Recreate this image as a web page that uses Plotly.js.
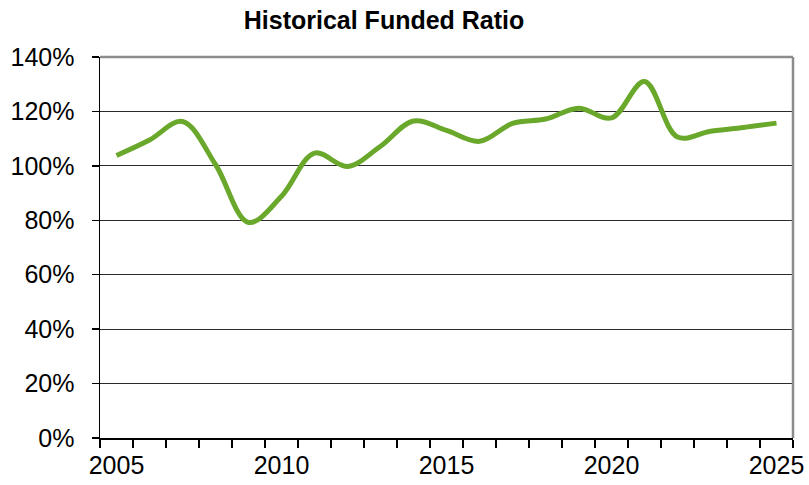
<!DOCTYPE html>
<html>
<head>
<meta charset="utf-8">
<script src="https://cdn.plot.ly/plotly-3.0.1.min.js"></script>
<style>
html,body{margin:0;padding:0;background:#fff;}
#chart{width:809px;height:485px;}
</style>
</head>
<body>
<div id="chart"></div>
<script>
const years = [2005,2006,2007,2008,2009,2010,2011,2012,2013,2014,2015,2016,2017,2018,2019,2020,2021,2022,2023,2024,2025];
const fundedRatio = [103.8,109.5,116.3,100.5,79.2,88.8,104.7,99.8,107.2,116.5,113.0,109.0,115.6,117.2,121.2,117.6,131.0,110.6,112.7,114.1,115.7];
const xLabelYears = [2005,2010,2015,2020,2025];
const yTicks = [0,20,40,60,80,100,120,140];

const trace = {
  x: years,
  y: fundedRatio,
  type: 'scatter',
  mode: 'lines',
  line: {color: '#6aa82c', width: 5, shape: 'spline', smoothing: 1},
  hoverinfo: 'x+y'
};

const layout = {
  width: 809,
  height: 485,
  margin: {l: 100, r: 16, t: 57, b: 47},
  paper_bgcolor: '#ffffff',
  plot_bgcolor: '#ffffff',
  showlegend: false,
  font: {family: 'Liberation Sans, Arial, sans-serif', color: '#000'},
  title: {
    text: '<b>Historical Funded Ratio</b>',
    font: {family: 'Liberation Sans, Arial, sans-serif', size: 25, color: '#000'},
    x: 0.4747, xref: 'container', xanchor: 'center',
    y: 0.958, yref: 'container', yanchor: 'middle'
  },
  xaxis: {
    type: 'linear',
    range: [2004.5, 2025.5],
    tickmode: 'array',
    tickvals: xLabelYears,
    ticktext: xLabelYears.map(String),
    ticks: '',
    tickfont: {size: 25, color: '#000'},
    showgrid: false,
    zeroline: false,
    showline: true,
    linecolor: '#000',
    linewidth: 1.5,
    ticklabelstandoff: 4,
    minor: {
      tick0: 2004.5,
      dtick: 1,
      ticks: 'outside',
      ticklen: 8,
      tickwidth: 1.5,
      tickcolor: '#000',
      showgrid: false
    }
  },
  yaxis: {
    range: [0, 140],
    tickmode: 'array',
    tickvals: yTicks,
    ticktext: yTicks.map(v => v + '%'),
    ticks: 'outside',
    ticklen: 7,
    tickwidth: 1.5,
    tickcolor: '#000',
    tickfont: {size: 25, color: '#000'},
    ticklabelstandoff: 12,
    showgrid: true,
    gridcolor: '#2b2b2b',
    gridwidth: 1.2,
    zeroline: false,
    showline: true,
    linecolor: '#000',
    linewidth: 1.5
  },
  shapes: [
    {type: 'line', xref: 'paper', yref: 'paper', x0: 0, x1: 1, y0: 1, y1: 1,
     line: {color: '#8c8c8c', width: 2.5}},
    {type: 'line', xref: 'paper', yref: 'paper', x0: 1, x1: 1, y0: 0, y1: 1,
     line: {color: '#8c8c8c', width: 2.5}}
  ]
};

Plotly.newPlot('chart', [trace], layout, {displayModeBar: false, staticPlot: true});
</script>
</body>
</html>
